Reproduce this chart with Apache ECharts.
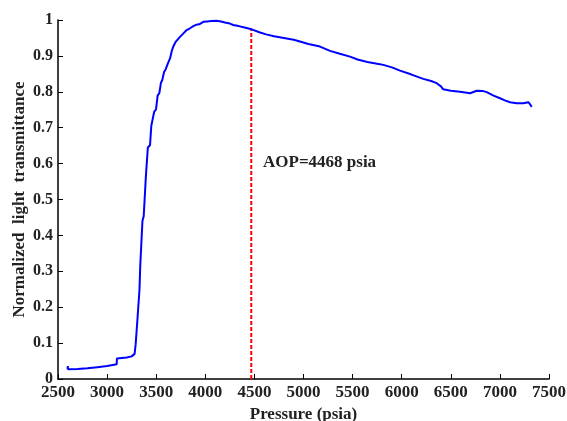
<!DOCTYPE html>
<html>
<head>
<meta charset="utf-8">
<script src="https://cdn.jsdelivr.net/npm/echarts@6/dist/echarts.min.js"></script>
<style>html,body{margin:0;padding:0;background:#fff}#c{width:567px;height:421px}</style>
</head>
<body>
<div id="c"></div>
<script>
const pressure = [2598,2600,2602,2700,2800,2900,3000,3098,3100,3114,3200,3250,3267,3280,3291,3300,3311,3320,3330,3338,3350,3360,3373,3385,3395,3403,3415,3425,3437,3450,3464,3480,3498,3515,3532,3548,3562,3580,3597,3620,3641,3660,3674,3700,3742,3775,3810,3844,3878,3910,3946,3980,4020,4060,4116,4160,4200,4250,4285,4340,4400,4473,4550,4620,4700,4800,4900,4964,5050,5168,5270,5370,5474,5550,5650,5750,5813,5900,5983,6100,6220,6300,6356,6400,6423,6500,6594,6696,6764,6830,6866,6930,7001,7050,7103,7170,7239,7289,7310,7324];
const transmittance = [0.027,0.036,0.027,0.028,0.030,0.033,0.036,0.041,0.057,0.057,0.060,0.063,0.066,0.070,0.097,0.100,0.174,0.176,0.250,0.318,0.320,0.440,0.454,0.457,0.565,0.568,0.645,0.650,0.651,0.705,0.706,0.745,0.751,0.790,0.796,0.825,0.833,0.855,0.863,0.880,0.893,0.915,0.926,0.940,0.953,0.962,0.972,0.977,0.983,0.987,0.989,0.995,0.996,0.997,0.998,0.996,0.993,0.990,0.986,0.983,0.979,0.974,0.966,0.960,0.955,0.950,0.945,0.940,0.933,0.926,0.914,0.906,0.898,0.890,0.883,0.878,0.875,0.868,0.859,0.848,0.836,0.830,0.824,0.815,0.807,0.803,0.800,0.796,0.803,0.802,0.799,0.790,0.782,0.776,0.771,0.768,0.768,0.771,0.764,0.758];
const aop = 4468;
const aopTop = 0.975;
const xTicks = ['2500','3000','3500','4000','4500','5000','5500','6000','6500','7000','7500'];
const yTicks = ['0','0.1','0.2','0.3','0.4','0.5','0.6','0.7','0.8','0.9','1'];

const font = '"Liberation Serif", "Times New Roman", serif';
const chart = echarts.init(document.getElementById('c'));
const data = pressure.map((p, i) => [p, transmittance[i]]);
chart.setOption({
  animation: false,
  backgroundColor: '#fff',
  grid: {left: 58, right: 18, top: 20, bottom: 42, containLabel: false, outerBoundsMode: 'none'},
  xAxis: {
    type: 'value', min: 2500, max: 7500, interval: 500,
    name: 'Pressure (psia)', nameLocation: 'middle', nameGap: 27, nameMoveOverlap: false,
    nameTextStyle: {fontFamily: font, fontWeight: 'bold', fontSize: 17, color: '#222'},
    axisLine: {lineStyle: {color: '#000', width: 1.5}},
    axisTick: {inside: true, length: 5, lineStyle: {color: '#000', width: 1}},
    axisLabel: {fontFamily: font, fontWeight: 'bold', fontSize: 17, color: '#222', margin: 5,
      formatter: v => xTicks[Math.round((v - 2500) / 500)]},
    splitLine: {show: false}
  },
  yAxis: {
    type: 'value', min: 0, max: 1, interval: 0.1,
    name: 'Normalized  light  transmittance', nameLocation: 'middle', nameGap: 30, nameMoveOverlap: false,
    nameTextStyle: {fontFamily: font, fontWeight: 'bold', fontSize: 17, color: '#222'},
    axisLine: {show: true, lineStyle: {color: '#000', width: 1.5}},
    axisTick: {show: true, inside: true, length: 5, lineStyle: {color: '#000', width: 1}},
    axisLabel: {fontFamily: font, fontWeight: 'bold', fontSize: 16, color: '#222', margin: 5,
      formatter: v => yTicks[Math.round(v * 10)]},
    splitLine: {show: false}
  },
  series: [
    {
      type: 'line', data: data, showSymbol: false, symbol: 'none',
      lineStyle: {color: '#0000ff', width: 2}, z: 3
    },
    {
      type: 'line', data: [[aop, 0], [aop, aopTop]], showSymbol: false, symbol: 'none',
      lineStyle: {color: '#ff0000', width: 2, type: [4, 2]}, z: 2
    }
  ],
  graphic: [{
    type: 'text', left: 263, top: 154,
    style: {text: 'AOP=4468 psia', font: 'bold 17px ' + font, fill: '#222'}
  }]
});
</script>
</body>
</html>
